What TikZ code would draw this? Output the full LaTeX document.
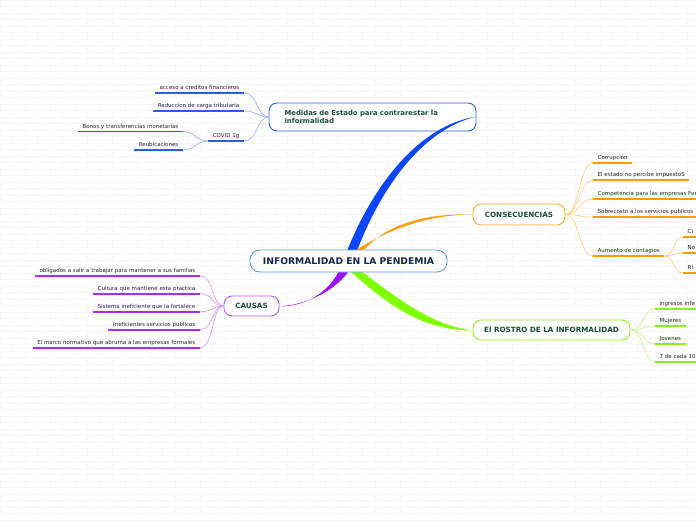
\documentclass[tikz,border=0pt]{standalone}
\usepackage{fontspec}
\setmainfont{DejaVu Sans}
\definecolor{azul}{HTML}{0A45FF}
\definecolor{azulhoja}{HTML}{2F5BEA}
\definecolor{naranja}{HTML}{FF9A00}
\definecolor{morado}{HTML}{9A10F5}
\definecolor{moradohoja}{HTML}{A52CFF}
\definecolor{verde}{HTML}{80FF00}
\definecolor{verdehoja}{HTML}{8CF01C}
\definecolor{titulo}{HTML}{1B4D3E}
\definecolor{central}{HTML}{14284B}
\definecolor{bordecentral}{HTML}{5B9BD5}
\tikzset{
  leaf/.style={font=\fontsize{5.5}{6.5}\selectfont, inner xsep=4.5pt, inner ysep=2pt,
    text height=4pt, text depth=1pt, text=black!85},
  uline/.style={line width=1.6pt, #1},
  conn/.style={line width=0.7pt, #1!45},
  topic/.style={draw=#1, rounded corners=8pt, fill=white, line width=0.9pt,
    font=\bfseries\fontsize{7.2}{8}\selectfont, text=titulo, inner sep=2pt},
  brick/.style={black!3, line width=0.4pt},
}
\begin{document}
\begin{tikzpicture}[x=1pt,y=-1pt]
\useasboundingbox (0,0) rectangle (696,520);
\clip (0,0) rectangle (696,520);
\fill[white] (0,0) rectangle (696,520);
\coordinate (edge) at (700,0);

% background bricks
\foreach \r in {0,...,80} {\draw[brick] (0,\r*6.5) -- (696,\r*6.5);}
\foreach \r in {0,...,79} {
  \pgfmathsetmacro\off{mod(\r,2)*12.5}
  \foreach \c in {0,...,28} {\draw[brick] (\c*25+\off,\r*6.5) -- ++(0,6.5);}
}

% topics
\node[topic=azulhoja, minimum height=28pt, text width=176pt, inner xsep=15.5pt,
  align=left, font=\bfseries\fontsize{6.9}{7.6}\selectfont] (medidas) at (372.5,117)
  {Medidas de Estado para contrarestar la\\informalidad};
\node[topic=naranja!85, minimum width=92pt, minimum height=21pt] (consecuencias)
  at (519,214.5) {CONSECUENCIAS};
\node[topic=moradohoja!80, minimum width=55pt, minimum height=20pt] (causas)
  at (251.5,306) {CAUSAS};
\node[topic=verdehoja, minimum width=157pt, minimum height=20pt] (rostro)
  at (551.5,330) {El ROSTRO DE LA INFORMALIDAD};

% main branches
\fill[azul] (347,251) .. controls (373,186) and (418,126) .. (476,116.6)
  .. controls (421,130) and (380,190) .. (357,251) -- cycle;
\fill[naranja] (353,252) .. controls (390,228) and (430,214.5) .. (473,214.5)
  .. controls (430,213) and (388,223) .. (365,249) -- cycle;
\fill[morado] (339,271) .. controls (326,296) and (302,306.5) .. (279,306.5)
  .. controls (304,305) and (333,293) .. (349,271) -- cycle;
\fill[verde] (350,271) .. controls (385,302) and (420,330.5) .. (473,330.5)
  .. controls (430,325) and (396,297) .. (361,271) -- cycle;

\node[draw=bordecentral, rounded corners=10pt, fill=white, line width=0.9pt,
  minimum width=197pt, minimum height=22pt, text=central,
  font=\bfseries\fontsize{9.2}{10}\selectfont] (informalidad) at (348.5,261)
  {INFORMALIDAD EN LA PENDEMIA};

% medidas
\node[leaf, anchor=south east] (acceso) at (244,93) {acceso a creditos financieros};
\node[leaf, anchor=south east] (reduccion) at (244,111) {Reduccion de carga tributaria};
\node[leaf, anchor=south east] (covid) at (244,141) {COVID 1g};
\node[leaf, anchor=south east] (bonos) at (183,131.5) {Bonos y transferencias monetarias};
\node[leaf, anchor=south east] (reubicaciones) at (183,150) {Reubicaciones};
\foreach \n in {acceso,reduccion,covid,bonos,reubicaciones}
  \draw[uline=azulhoja] (\n.south west) -- (\n.south east);
\foreach \n in {acceso,reduccion,covid}
  \draw[conn=azulhoja] (\n.south east) .. controls +(14,0) and +(-12,0) .. (medidas.west);
\foreach \n in {bonos,reubicaciones}
  \draw[conn=azulhoja] (\n.south east) .. controls +(12,0) and +(-12,0) .. (covid.south west);

% consecuencias
\node[leaf, anchor=south west] (corrupcion) at (593,163) {Corrupción};
\node[leaf, anchor=south west] (estado) at (593,180) {El estado no percibe impuestoS};
\node[leaf, anchor=south west] (competencia) at (593,199) {Competencia para las empresas For};
\node[leaf, anchor=south west] (sobrecosto) at (593,217) {Sobrecosto a los servicios publicos};
\node[leaf, anchor=south west] (aumento) at (593,256) {Aumento de contagios};
\node[leaf, anchor=south west] (ci) at (683,237) {Ci};
\node[leaf, anchor=south west] (no) at (683,253) {No};
\node[leaf, anchor=south west] (ri) at (683,273) {Ri};
\foreach \n in {corrupcion,estado,aumento}
  \draw[uline=naranja] (\n.south west) -- (\n.south east);
\foreach \n in {competencia,sobrecosto,ci,no,ri}
  \draw[uline=naranja] (\n.south west) -- (\n.south west -| edge);
\foreach \n in {corrupcion,estado,competencia,sobrecosto,aumento}
  \draw[conn=naranja] (consecuencias.east) .. controls +(14,0) and +(-14,0) .. (\n.south west);
\foreach \n in {ci,no,ri}
  \draw[conn=naranja] (aumento.south east) .. controls +(10,0) and +(-10,0) .. (\n.south west);

% causas
\node[leaf, anchor=south east] (obligados) at (200,275.7)
  {obligados a salir a trabajar para mantener a sus familias};
\node[leaf, anchor=south east] (cultura) at (200,293.7) {Cultura que mantiene esta practica};
\node[leaf, anchor=south east] (sistema) at (200,311.7) {Sistema ineficiente que la fortalece};
\node[leaf, anchor=south east] (ineficientes) at (200,329.7) {Ineficientes servicios publicos};
\node[leaf, anchor=south east] (marco) at (200,347.7)
  {El marco normativo que abruma a las empresas formales};
\foreach \n in {obligados,cultura,sistema,ineficientes,marco} {
  \draw[uline=moradohoja] (\n.south west) -- (\n.south east);
  \draw[conn=moradohoja] (\n.south east) .. controls +(14,0) and +(-12,0) .. (causas.west);
}

% rostro
\node[leaf, anchor=south west] (ingresos) at (655,309) {ingresos infe};
\node[leaf, anchor=south west] (mujeres) at (655,326) {Mujeres};
\node[leaf, anchor=south west] (jovenes) at (655,344) {Jovenes};
\node[leaf, anchor=south west] (siete) at (655,362) {7 de cada 10};
\foreach \n in {mujeres,jovenes}
  \draw[uline=verdehoja] (\n.south west) -- (\n.south east);
\foreach \n in {ingresos,siete}
  \draw[uline=verdehoja] (\n.south west) -- (\n.south west -| edge);
\foreach \n in {ingresos,mujeres,jovenes,siete}
  \draw[conn=verdehoja] (rostro.east) .. controls +(14,0) and +(-12,0) .. (\n.south west);
\end{tikzpicture}
\end{document}
